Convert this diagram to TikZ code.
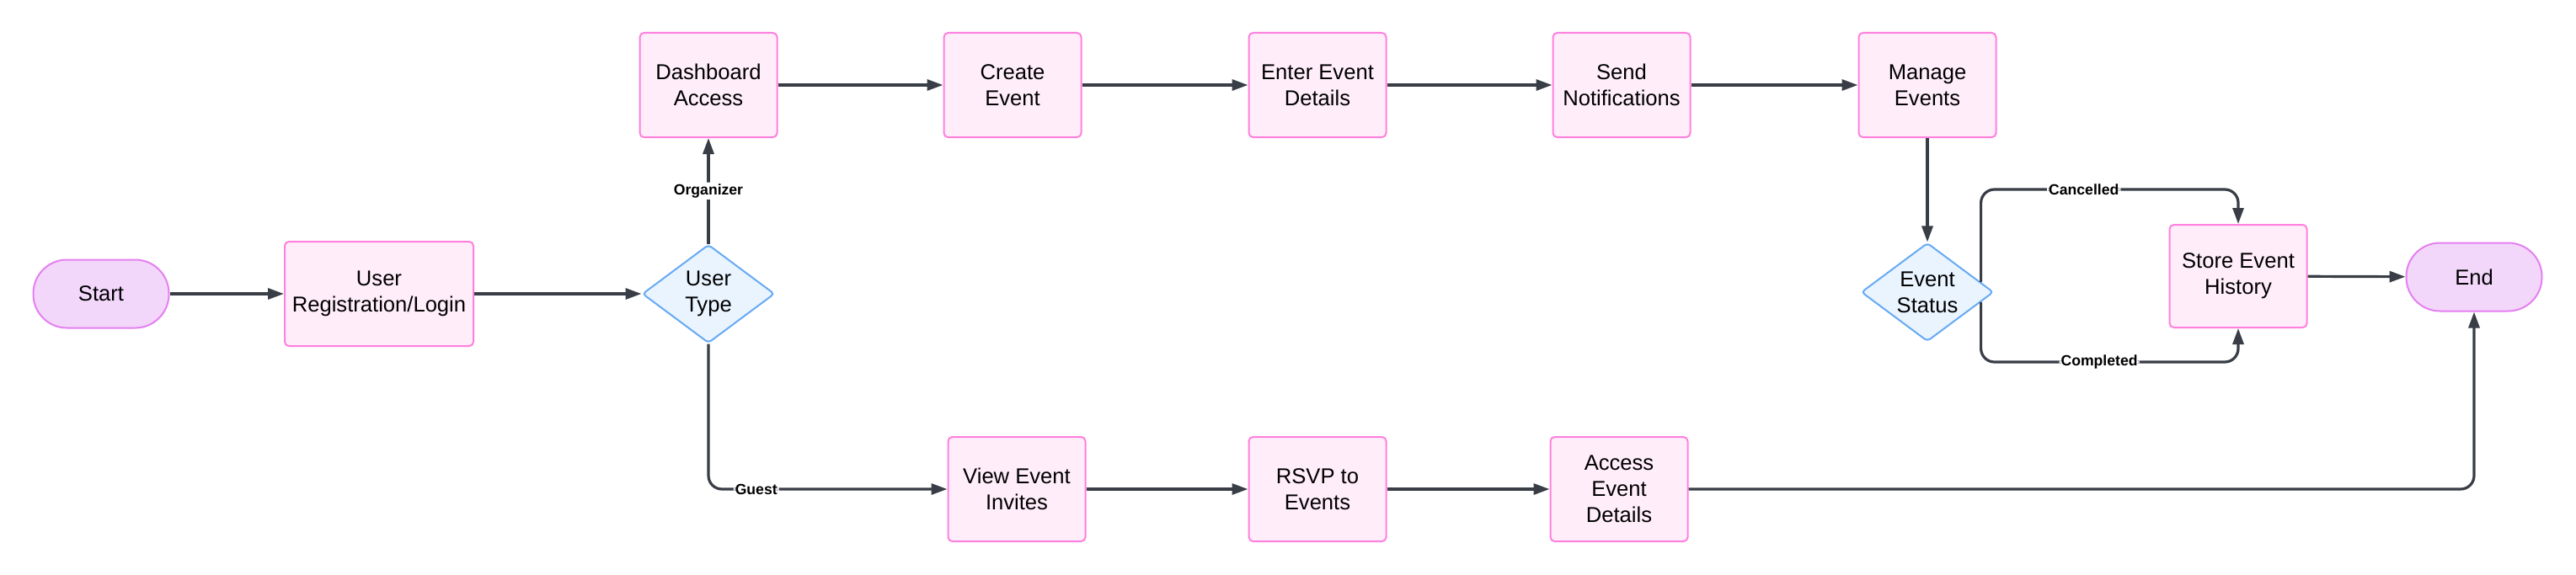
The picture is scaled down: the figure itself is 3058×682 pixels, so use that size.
\documentclass[tikz,border=0pt]{standalone}
\usepackage{fontspec}
\setmainfont{Liberation Sans}
\usepackage{xcolor}
\usepackage{tikz}
\usetikzlibrary{calc,arrows.meta,shapes.geometric}
\definecolor{procfill}{RGB}{255, 238, 250}
\definecolor{procline}{RGB}{255, 128, 222}
\definecolor{termfill}{RGB}{242, 215, 251}
\definecolor{termline}{RGB}{228, 128, 240}
\definecolor{decfill}{RGB}{234, 244, 255}
\definecolor{decline}{RGB}{102, 170, 245}
\definecolor{linkcol}{RGB}{56, 61, 70}

\begin{document}
\begin{tikzpicture}[x=0.5pt, y=0.5pt, >={Triangle[length=9.5pt, width=6.5pt]},
  proc/.style={draw=procline, fill=procfill, line width=1pt, rounded corners=2.5pt,
    minimum width=81.5pt, minimum height=62pt, inner sep=0pt, align=center,
    font=\fontsize{12.8pt}{15.5pt}\selectfont},
  term/.style={proc, draw=termline, fill=termfill, rounded corners=20pt,
    minimum width=80.5pt, minimum height=40.5pt},
  decision/.style={diamond, draw=decline, fill=decfill, line width=1pt, rounded corners=2pt,
    aspect=1.34, minimum width=78.5pt, minimum height=58.5pt, inner sep=0pt, align=center,
    font=\fontsize{12.8pt}{15.5pt}\selectfont},
  link/.style={->, draw=linkcol, line width=1.6pt, rounded corners=8pt},
  lbl/.style={fill=white, inner sep=1pt, text=black, font=\bfseries\fontsize{8.8pt}{10pt}\selectfont}]
  \useasboundingbox (0,0) rectangle (3058,682);
  % Entry
  \node[term] (start) at (120,333) {Start};
  \node[proc, minimum width=112pt] (login) at (450,333) {User\\Registration/Login};
  \node[decision] (utype) at (841,333) {User\\Type};
  % Organizer branch
  \node[proc] (dash) at (841,581) {Dashboard\\Access};
  \node[proc] (create) at (1202,581) {Create\\Event};
  \node[proc] (details) at (1564,581) {Enter Event\\Details};
  \node[proc] (notify) at (1925,581) {Send\\Notifications};
  \node[proc] (manage) at (2288,581) {Manage\\Events};
  \node[decision] (estatus) at (2288,335) {Event\\Status};
  \node[proc, minimum height=61pt] (store) at (2657,354) {Store Event\\History};
  \node[term] (finish) at (2937,353) {End};
  % Guest branch
  \node[proc] (invites) at (1207,101) {View Event\\Invites};
  \node[proc] (rsvp) at (1564,101) {RSVP to\\Events};
  \node[proc] (access) at (1922,101) {Access\\Event\\Details};
  % Connectors
  \draw[link] (start) -- (login);
  \draw[link] (login) -- (utype);
  \draw[link] (utype) -- node[lbl, pos=0.5]{Organizer} (dash);
  \draw[link] (utype) |- node[lbl, pos=0.6]{Guest} (invites);
  \draw[link] (dash) -- (create);
  \draw[link] (create) -- (details);
  \draw[link] (details) -- (notify);
  \draw[link] (notify) -- (manage);
  \draw[link] (manage) -- (estatus);
  % Status split
  \coordinate (ecancel) at ($(estatus.north)!0.8!(estatus.east)$);
  \coordinate (edone) at ($(estatus.south)!0.8!(estatus.east)$);
  \draw[link] (ecancel) |- node[lbl, pos=0.7]{Cancelled} ($(store.north)+(0,41)$) -- (store.north);
  \draw[link] (edone) |- node[lbl, pos=0.73]{Completed} ($(store.south)+(0,-40)$) -- (store.south);
  \draw[link] (store) -- (finish);
  \draw[link] (invites) -- (rsvp);
  \draw[link] (rsvp) -- (access);
  \draw[link] (access) -| (finish);
\end{tikzpicture}
\end{document}
